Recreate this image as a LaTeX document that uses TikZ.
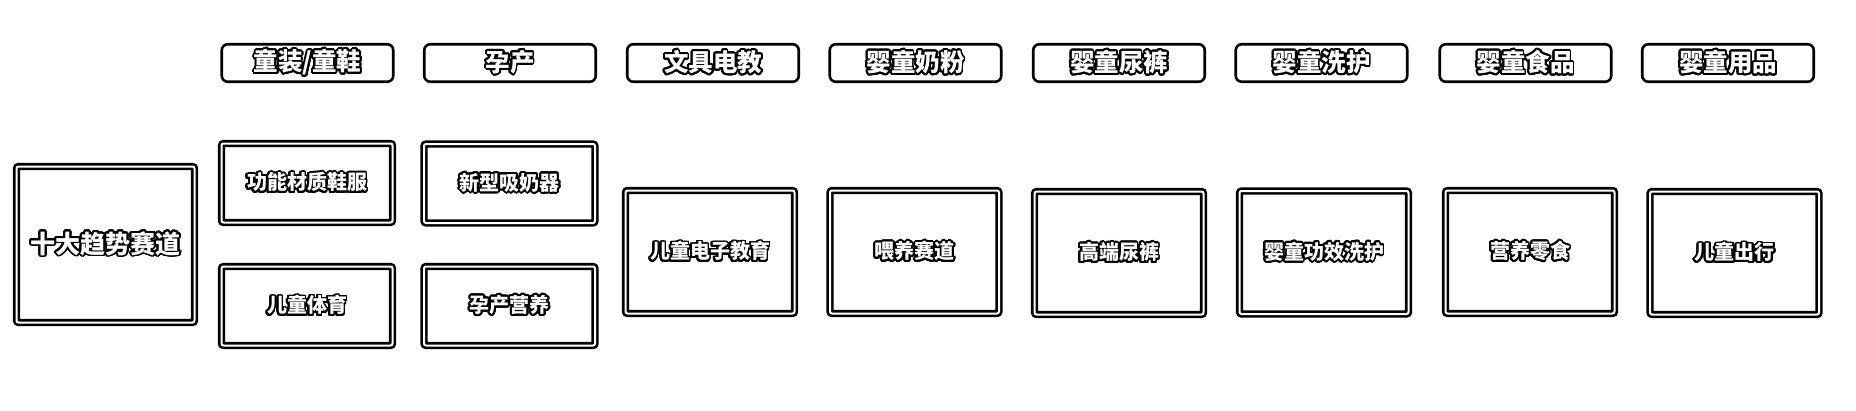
\documentclass[tikz,border=0pt]{standalone}
\usepackage{fontspec}
\setmainfont{Noto Sans CJK SC}
\usepackage{contour}
\contourlength{1.8pt}
\contournumber{32}
\newcommand{\hl}[1]{\contour{black}{#1}}
\begin{document}
\begin{tikzpicture}[x=1pt,y=-1pt,
  hdr/.style={draw, line width=2.6pt, rounded corners=6pt, minimum width=171.5pt, minimum height=37.5pt, inner sep=0pt, text=white, font=\fontsize{24.5}{24.5}\selectfont\bfseries},
  dbox/.style={draw, double=white, double distance=2pt, line width=2.6pt, rounded corners=2pt, inner sep=0pt, text=white, font=\fontsize{20}{20}\selectfont\bfseries},
  small/.style={dbox, minimum width=171pt, minimum height=79pt},
  big/.style={dbox, minimum width=169pt, minimum height=123pt},
  main/.style={dbox, minimum width=178pt, minimum height=156pt, font=\fontsize{25}{25}\selectfont\bfseries}]
\fill[white] (0,0) rectangle (1856,410);
\useasboundingbox (0,0) rectangle (1856,410);
% headers
\node[hdr] (h1) at (307.5,63) {\hl{童装/童鞋}};
\node[hdr] (h2) at (510,63) {\hl{孕产}};
\node[hdr] (h3) at (713,63) {\hl{文具电教}};
\node[hdr] (h4) at (915.5,63) {\hl{婴童奶粉}};
\node[hdr] (h5) at (1119,63) {\hl{婴童尿裤}};
\node[hdr] (h6) at (1321.5,63) {\hl{婴童洗护}};
\node[hdr] (h7) at (1525.5,63) {\hl{婴童食品}};
\node[hdr] (h8) at (1728,63) {\hl{婴童用品}};
% main
\node[main] (m) at (105.5,244.5) {\hl{十大趋势赛道}};
% small boxes
\node[small] (s1) at (307,183) {\hl{功能材质鞋服}};
\node[small] (s2) at (307,306) {\hl{儿童体育}};
\node[small] (s3) at (509.5,183.5) {\hl{新型吸奶器}};
\node[small] (s4) at (509.5,306) {\hl{孕产营养}};
% big boxes
\node[big] (b1) at (710,252) {\hl{儿童电子教育}};
\node[big] (b2) at (914.5,252) {\hl{喂养赛道}};
\node[big] (b3) at (1119,253) {\hl{高端尿裤}};
\node[big] (b4) at (1324,252.5) {\hl{婴童功效洗护}};
\node[big] (b5) at (1530,252) {\hl{营养零食}};
\node[big] (b6) at (1734.5,253) {\hl{儿童出行}};
\end{tikzpicture}
\end{document}
